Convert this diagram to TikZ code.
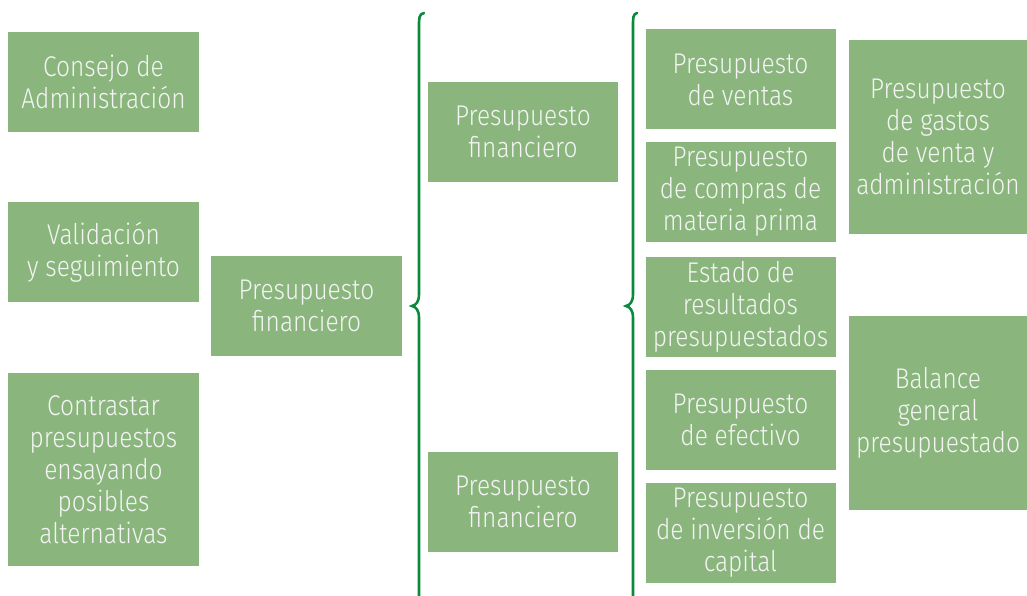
\documentclass[tikz,border=0pt]{standalone}
\usepackage{fontspec}
\setmainfont{Fira Sans Light}[FakeStretch=0.86]
\definecolor{boxgreen}{HTML}{8AB67E}
\definecolor{bracegreen}{HTML}{0A8A3C}
\definecolor{boxtext}{HTML}{F4F4F4}
\begin{document}
\begin{tikzpicture}[x=1pt,y=1pt,
  box/.style={fill=boxgreen, draw=none, text=boxtext, align=center, inner sep=0pt,
    font=\fontsize{28.5}{32}\selectfont},
  bracepath/.style={draw=bracegreen, line width=2.6pt, line cap=round}]
\useasboundingbox (0,0) rectangle (1027,-596);
% left column
\node[box, minimum width=191, minimum height=100] (consejo) at (103.5,-82) {Consejo de\\Administración};
\node[box, minimum width=191, minimum height=100] (valid) at (103.5,-252) {Validación\\y seguimiento};
\node[box, minimum width=191, minimum height=193] (contr) at (103.5,-469.5) {Contrastar\\presupuestos\\ensayando\\posibles\\alternativas};
\node[box, minimum width=191, minimum height=100] (pfc) at (306.5,-306) {Presupuesto\\financiero};
% second column
\node[box, minimum width=190, minimum height=100] (pft) at (523,-132) {Presupuesto\\financiero};
\node[box, minimum width=190, minimum height=100] (pfb) at (523,-502) {Presupuesto\\financiero};
% third column
\node[box, minimum width=190, minimum height=100] (ventas) at (740.5,-79.5) {Presupuesto\\de ventas};
\node[box, minimum width=190, minimum height=100] (compras) at (740.5,-192) {Presupuesto\\de compras de\\materia prima};
\node[box, minimum width=190, minimum height=100] (estado) at (740.5,-306.5) {Estado de\\resultados\\presupuestados};
\node[box, minimum width=190, minimum height=100] (efectivo) at (740.5,-419.5) {Presupuesto\\de efectivo};
\node[box, minimum width=190, minimum height=100] (inversion) at (740.5,-532.5) {Presupuesto\\de inversión de\\capital};
% fourth column
\node[box, minimum width=178, minimum height=194] (gastos) at (938,-137) {Presupuesto\\de gastos\\de venta y\\administración};
\node[box, minimum width=178, minimum height=194] (balance) at (938,-413) {Balance\\general\\presupuestado};
% braces
\coordinate (b1top) at (424,-13);
\coordinate (b1tip) at (412,-306);
\coordinate (b1bot) at (419,-600);
\draw[bracepath] (b1top) .. controls (419,-14) and (419,-18) .. (419,-26)
  -- (419,-294) .. controls (419,-302) and (416,-305) .. (b1tip)
  .. controls (416,-307) and (419,-310) .. (419,-318) -- (b1bot);
\coordinate (b2top) at (637,-13);
\coordinate (b2tip) at (626,-306);
\coordinate (b2bot) at (633,-600);
\draw[bracepath] (b2top) .. controls (633,-14) and (633,-18) .. (633,-26)
  -- (633,-294) .. controls (633,-302) and (630,-305) .. (b2tip)
  .. controls (630,-307) and (633,-310) .. (633,-318) -- (b2bot);
\end{tikzpicture}
\end{document}
